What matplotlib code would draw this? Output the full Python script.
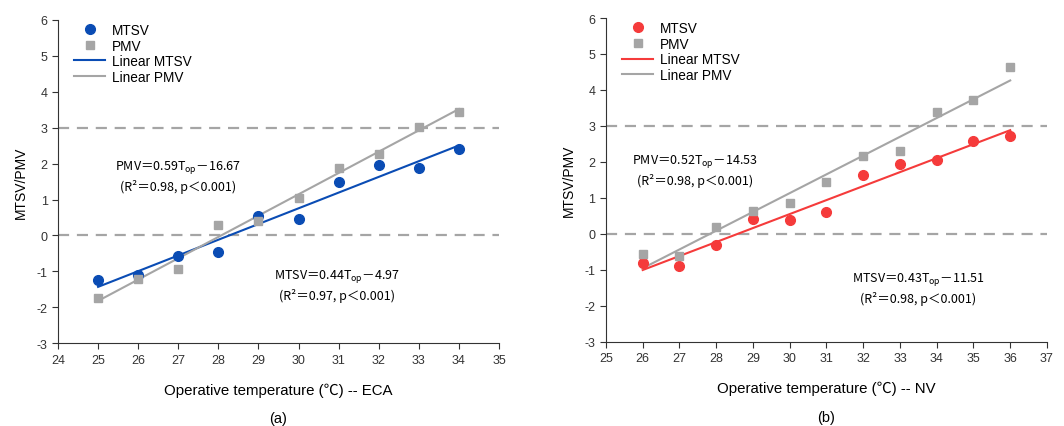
import matplotlib
matplotlib.use('Agg')
import matplotlib.pyplot as plt
import numpy as np

plt.rcParams['font.family'] = ['Liberation Sans', 'Noto Sans CJK SC', 'DejaVu Sans']
plt.rcParams['mathtext.fontset'] = 'custom'
plt.rcParams['mathtext.rm'] = 'Noto Sans CJK SC'
plt.rcParams['axes.unicode_minus'] = False

# (a) ECA
t_eca = [25, 26, 27, 28, 29, 30, 31, 32, 33, 34]
mtsv_eca = [-1.25, -1.10, -0.58, -0.45, 0.55, 0.47, 1.48, 1.95, 1.87, 2.42]
pmv_eca = [-1.75, -1.22, -0.93, 0.30, 0.40, 1.05, 1.88, 2.28, 3.02, 3.45]

# (b) NV
t_nv = [26, 27, 28, 29, 30, 31, 32, 33, 34, 35, 36]
mtsv_nv = [-0.80, -0.88, -0.30, 0.42, 0.38, 0.60, 1.63, 1.95, 2.06, 2.57, 2.71]
pmv_nv = [-0.55, -0.60, 0.20, 0.65, 0.85, 1.44, 2.17, 2.31, 3.39, 3.71, 4.64]

gray = '#a5a5a5'
blue = '#0a4cb4'
red = '#f53b3b'
cjk = ['Noto Sans CJK SC', 'DejaVu Sans']

fig = plt.figure(figsize=(10.64, 4.27), dpi=100)


def panel(rect, t, mtsv, pmv, color, xlim, xlabel, tag, eq_pmv, eq_mtsv, pos_pmv, pos_mtsv):
    ax = fig.add_axes(rect)
    ax.axhline(3, color=gray, lw=1.6, ls=(0, (5, 3.5)), zorder=1)
    ax.axhline(0, color=gray, lw=1.6, ls=(0, (5, 3.5)), zorder=1)
    t = np.array(t, dtype=float)
    ax.plot(t, mtsv, 'o', color=color, ms=7, label='MTSV', zorder=3)
    ax.plot(t, pmv, 's', color=gray, ms=6, label='PMV', zorder=3)
    # lineas de tendencia
    k1, b1 = np.polyfit(t, mtsv, 1)
    k2, b2 = np.polyfit(t, pmv, 1)
    ax.plot(t, k1 * t + b1, color=color, lw=1.5, label='Linear MTSV', zorder=2)
    ax.plot(t, k2 * t + b2, color=gray, lw=1.5, label='Linear PMV', zorder=2)
    ax.set_xlim(*xlim)
    ax.set_ylim(-3, 6)
    ax.set_xticks(range(xlim[0], xlim[1] + 1))
    ax.set_yticks(range(-3, 7))
    for s in ['top', 'right']:
        ax.spines[s].set_visible(False)
    ax.spines['left'].set_color('#333333')
    ax.spines['bottom'].set_color('#333333')
    ax.tick_params(direction='out', length=4, labelsize=9, colors='#333333')
    ax.set_ylabel('MTSV/PMV', fontsize=10, labelpad=6)
    ax.set_xlabel(xlabel, fontsize=10.8, labelpad=12)
    ax.text(0.5, -0.232, tag, transform=ax.transAxes, ha='center', va='center', fontsize=10.5)
    ax.text(pos_pmv[0], pos_pmv[1], eq_pmv, ha='center', va='center', fontsize=9,
            family=cjk, linespacing=1.35)
    ax.text(pos_mtsv[0], pos_mtsv[1], eq_mtsv, ha='center', va='center', fontsize=9,
            family=cjk, linespacing=1.35)
    ax.legend(loc='upper left', bbox_to_anchor=(0.015, 1.02), frameon=False, fontsize=9.8,
              handlelength=2.3, handletextpad=0.5, labelspacing=0.12, borderpad=0.2)
    return ax


panel([0.0545, 0.194, 0.4145, 0.757], t_eca, mtsv_eca, pmv_eca, blue, (24, 35),
      'Operative temperature (℃) -- ECA', '(a)',
      'PMV＝0.59T$_{\\mathrm{op}}$－16.67\n(R²＝0.98, p＜0.001)',
      'MTSV＝0.44T$_{\\mathrm{op}}$－4.97\n(R²＝0.97, p＜0.001)',
      (27.0, 1.68), (30.96, -1.36))

panel([0.5695, 0.197, 0.4145, 0.7585], t_nv, mtsv_nv, pmv_nv, red, (25, 37),
      'Operative temperature (℃) -- NV', '(b)',
      'PMV＝0.52T$_{\\mathrm{op}}$－14.53\n(R²＝0.98, p＜0.001)',
      'MTSV＝0.43T$_{\\mathrm{op}}$－11.51\n(R²＝0.98, p＜0.001)',
      (27.42, 1.79), (33.49, -1.49))

fig.savefig('out.png', dpi=100)
